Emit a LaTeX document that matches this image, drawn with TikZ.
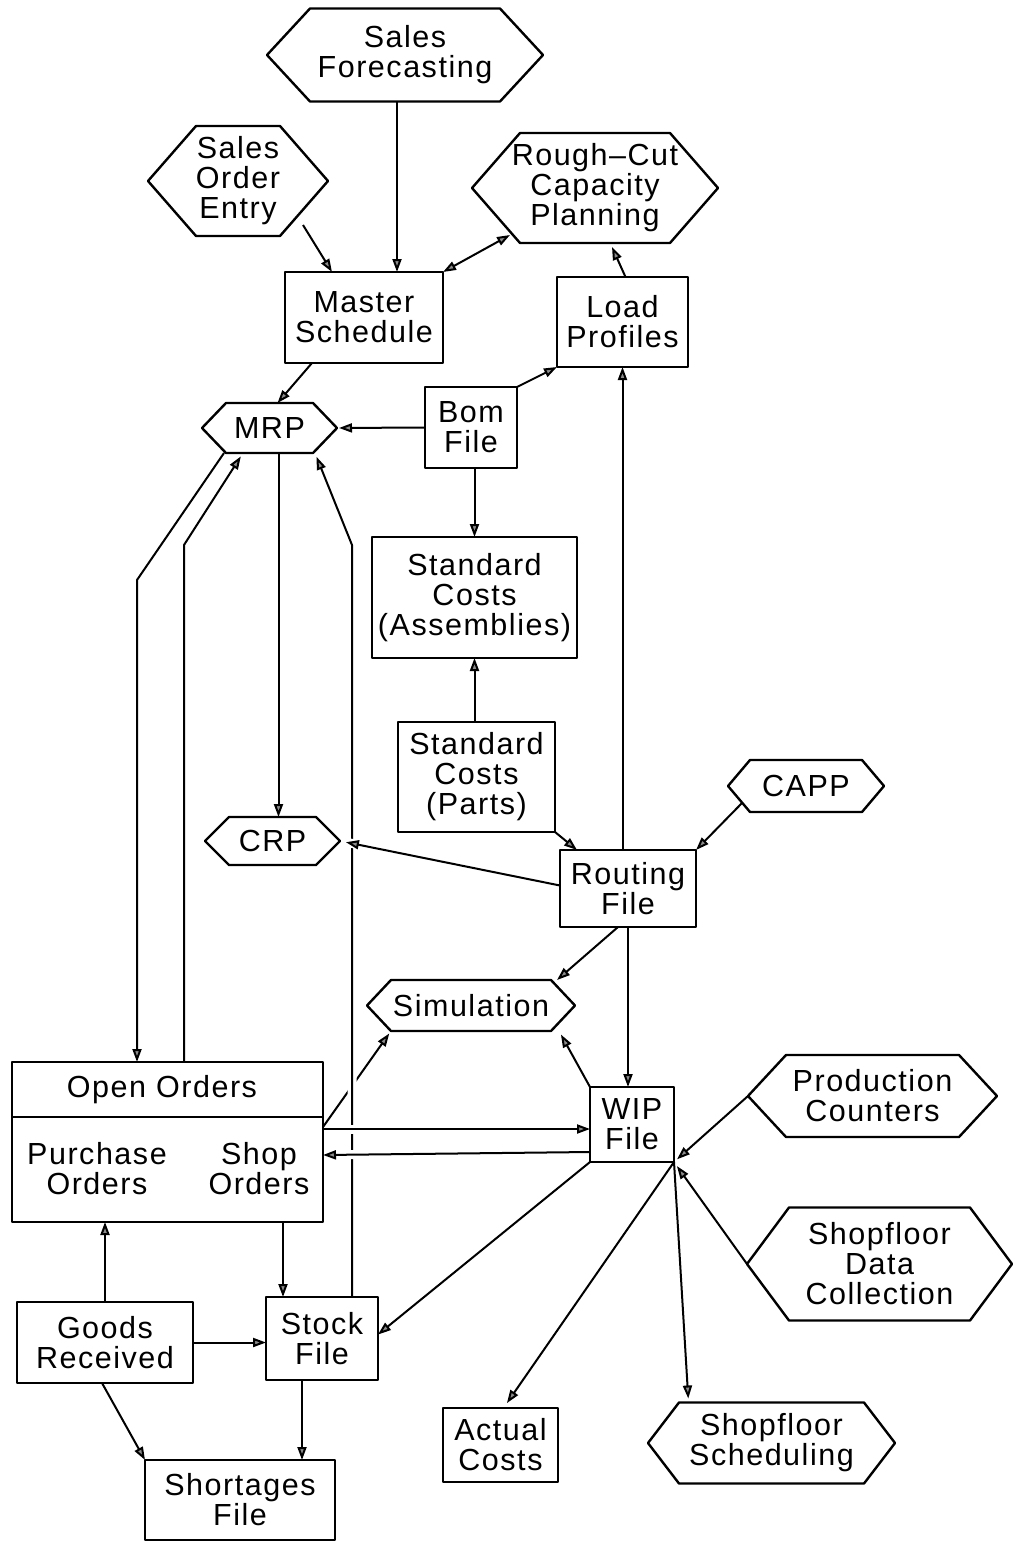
\documentclass[tikz,border=0pt]{standalone}
\usepackage{fontspec}
\setmainfont{Liberation Sans}[LetterSpace=5]
\usetikzlibrary{arrows.meta,calc}

% outline of a six-sided "process" node: #1 node name, #2 horizontal slant
\newcommand\hexframe[2]{%
  \draw[boxline] (#1.west) -- ([xshift=#2]#1.north west) -- ([xshift=-#2]#1.north east)
    -- (#1.east) -- ([xshift=-#2]#1.south east) -- ([xshift=#2]#1.south west) -- cycle;}

\tikzset{
  every node/.style={font=\fontsize{30.5}{30}\selectfont, align=center, inner sep=0pt},
  boxline/.style={line width=2.4pt, line join=round},
  box/.style={draw, boxline, outer sep=0pt},
  hexa/.style={outer sep=0pt},
  tip/.tip={Triangle[length=13pt,width=9pt,fill=black!45]},
  arr/.style={line width=2pt, -tip},
  dbl/.style={line width=2pt, tip-tip},
  over/.style={preaction={draw=white,-,line width=9pt,shorten <=10pt,shorten >=10pt}},
}

\begin{document}
\begin{tikzpicture}[x=1pt,y=-1pt]
\fill[white] (0,0) rectangle (1013,1541);
\useasboundingbox (0,0) rectangle (1013,1541);

% ---- process nodes (hexagons)
\node[hexa, minimum width=276pt, minimum height=93pt] (sf) at (405,55) {Sales\\Forecasting};
\node[hexa, minimum width=180pt, minimum height=110pt] (soe) at (238,181) {Sales\\Order\\Entry};
\node[hexa, minimum width=246pt, minimum height=110pt] (rccp) at (595,188) {Rough--Cut\\Capacity\\Planning};
\node[hexa, minimum width=135pt, minimum height=50pt] (mrp) at (269.5,428) {MRP};
\node[hexa, minimum width=135pt, minimum height=48pt] (crp) at (272.5,841) {CRP};
\node[hexa, minimum width=156pt, minimum height=52pt] (capp) at (806,786) {CAPP};
\node[hexa, minimum width=208pt, minimum height=51pt] (sim) at (471,1005.5) {Simulation};
\node[hexa, minimum width=249pt, minimum height=82pt] (pc) at (872.5,1096) {Production\\Counters};
\node[hexa, minimum width=265pt, minimum height=113pt] (sdc) at (879.5,1264) {Shopfloor\\Data\\Collection};
\node[hexa, minimum width=247pt, minimum height=81pt] (ss) at (771.5,1443) {Shopfloor\\Scheduling};

\hexframe{sf}{43}
\hexframe{soe}{48}
\hexframe{rccp}{48}
\hexframe{mrp}{24}
\hexframe{crp}{24}
\hexframe{capp}{22}
\hexframe{sim}{24}
\hexframe{pc}{38}
\hexframe{sdc}{42}
\hexframe{ss}{31}

% ---- files (rectangles)
\node[box, minimum width=158pt, minimum height=91pt] (ms) at (364,317.5) {Master\\Schedule};
\node[box, minimum width=131pt, minimum height=90pt] (lp) at (622.5,322) {Load\\Profiles};
\node[box, minimum width=92pt, minimum height=81pt] (bom) at (471,427.5) {Bom\\File};
\node[box, minimum width=205pt, minimum height=121pt] (sca) at (474.5,597.5) {Standard\\Costs\\(Assemblies)};
\node[box, minimum width=157pt, minimum height=110pt] (scp) at (476.5,777) {Standard\\Costs\\(Parts)};
\node[box, minimum width=136pt, minimum height=77pt] (rout) at (628,888.5) {Routing\\File};
\node[box, minimum width=84pt, minimum height=75pt] (wip) at (632,1124.5) {WIP\\File};
\node[box, minimum width=176pt, minimum height=81pt] (gr) at (105,1342.5) {Goods\\Received};
\node[box, minimum width=112pt, minimum height=83pt] (stock) at (322,1338.5) {Stock\\File};
\node[box, minimum width=190pt, minimum height=80pt] (short) at (240,1500) {Shortages\\File};
\node[box, minimum width=115pt, minimum height=74pt] (act) at (500.5,1445) {Actual\\Costs};

% open orders: one box split into a title row and two order kinds
\node[box, minimum width=311pt, minimum height=160pt] (oo) at (167.5,1142) {};
\draw[boxline] ([yshift=-55]oo.north west) -- ([yshift=-55]oo.north east);
\node (ootitle) at (162,1090) {Open Orders};
\node (po) at (97,1169) {Purchase\\Orders};
\node (so) at (259,1169) {Shop\\Orders};

% ---- bend points of the long connectors
\coordinate (bendA) at (137,580);
\coordinate (bendB) at (184,545);
\coordinate (bendC) at (352,545);

% ---- connectors
\draw[arr] ([xshift=33]ms.north |- sf.south) -- ([xshift=33]ms.north);
\draw[arr] ([xshift=-25,yshift=11]soe.south east) -- ([xshift=-32]ms.north);
\draw[dbl] (ms.north east) -- ([xshift=38,yshift=8]rccp.south west);
\draw[arr] ([xshift=3]lp.north) -- ([xshift=17,yshift=-4]rccp.south);
\draw[arr] ([xshift=-52]ms.south) -- ([xshift=8]mrp.north);
\draw[arr, shorten >=2pt] (bom.west) -- (mrp.east);
\draw[arr] (bom.north east) -- (lp.south west);
\draw[arr] (sca.north |- bom.south) -- (sca.north);
\draw[arr] (sca.south |- scp.north) -- (sca.south);
\draw[arr] (scp.south east) -- ([xshift=17]rout.north west);
\draw[arr] ([xshift=14,yshift=9]capp.south west) -- (rout.north east);
\draw[arr] (lp.south |- rout.north) -- (lp.south);
\draw[arr] ([xshift=6]crp.north |- mrp.south) -- ([xshift=6]crp.north);
\draw[arr] ([xshift=22]mrp.south west) -- (bendA) -- (bendA |- oo.north);
\draw[arr, shorten >=4pt] (bendB |- oo.north) -- (bendB) -- ([xshift=41]mrp.south west);
\draw[arr] ([xshift=-10]rout.south) -- ([xshift=-18]sim.north east);
\draw[arr] (rout.south) -- (rout.south |- wip.north);
\draw[arr, shorten >=4pt] (wip.north west) -- ([xshift=-16]sim.south east);
\draw[arr, shorten >=3pt] ([yshift=15]oo.east) -- ([xshift=24]sim.south west);
\draw[arr] (wip.south west) -- ([yshift=4]stock.east);
\draw[arr, shorten >=4pt] (pc.west) -- (wip.south east);
\draw[arr, shorten >=5pt] (sdc.west) -- (wip.south east);
\draw[arr, shorten >=6pt] (wip.south east) -- ([xshift=3]act.north);
\draw[arr, shorten >=4pt] (wip.south east) -- ([xshift=-83]ss.north);
\draw[arr] (gr.north) -- (gr.north |- oo.south);
\draw[arr] ([xshift=-39]stock.north |- oo.south) -- ([xshift=-39]stock.north);
\draw[arr] (gr.east) -- (gr.east -| stock.west);
\draw[arr] ([xshift=-3]gr.south) -- (short.north west);
\draw[arr] ([xshift=-20]stock.south) -- ([xshift=-20]stock.south |- short.north);

% stock file back to MRP, passing over the simulation feed
\draw[arr, over, shorten >=4pt] (bendC |- stock.north) -- (bendC) -- ([xshift=-22]mrp.south east);

% lines that pass over the stock-to-MRP line
\draw[arr, over] ([yshift=13]oo.east) -- ([yshift=-4.5]wip.west);
\draw[arr, over] ([yshift=-27.5]wip.west) -- ([yshift=-13]oo.east);
\draw[arr, over, shorten >=6pt] ([yshift=3]rout.west) -- (crp.east);
\end{tikzpicture}
\end{document}
